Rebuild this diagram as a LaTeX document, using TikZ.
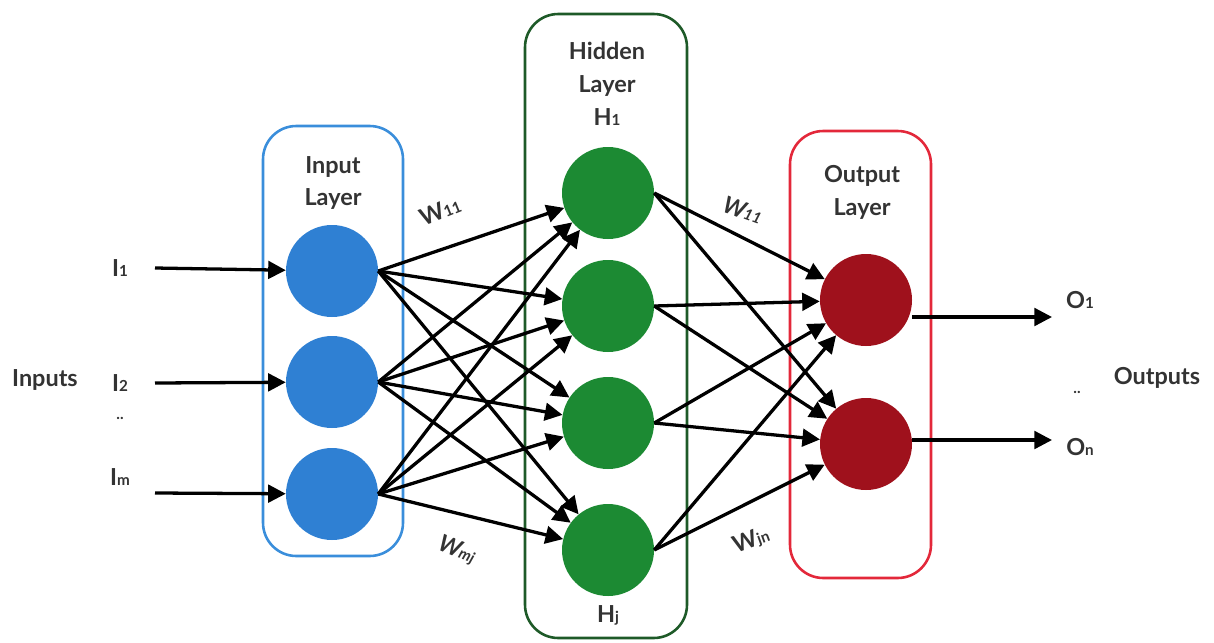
\documentclass[tikz,border=0pt]{standalone}
\usepackage{fontspec}
\setmainfont{Lato}
\usetikzlibrary{arrows.meta}
\definecolor{inblue}{HTML}{2F80D3}
\definecolor{inbox}{HTML}{3A8EDB}
\definecolor{hidgreen}{HTML}{1C8A33}
\definecolor{hidbox}{HTML}{1E5A28}
\definecolor{outred}{HTML}{9F111C}
\definecolor{outbox}{HTML}{E3283A}
\definecolor{txt}{HTML}{333333}
\newcommand{\sbs}[1]{{\fontsize{13pt}{13pt}\selectfont #1}}
\begin{document}
\begin{tikzpicture}[x=0.03cm,y=-0.03cm,
  lbl/.style={font=\fontsize{20pt}{28pt}\selectfont\bfseries, text=txt, align=center, inner sep=0},
  wlbl/.style={font=\fontsize{20pt}{24pt}\selectfont\bfseries, text=txt, inner sep=0},
  neuron/.style={circle, minimum size=2.76cm, inner sep=0},
  conn/.style={line width=2.8pt, -{Triangle[length=15pt,width=15pt]}},
  layerbox/.style={line width=2.2pt, rounded corners=1cm},
]
\useasboundingbox (0,0) rectangle (1214,642);

% layer boxes
\draw[layerbox, inbox] (263,126) rectangle (403,556);
\draw[layerbox, hidbox] (525,14) rectangle (687,638);
\draw[layerbox, outbox] (790,131) rectangle (931,578);

% labels
\node[lbl] (tin) at (333,183) {Input\\Layer};
\node[lbl] (thid) at (607,84) {Hidden\\Layer\\H\sbs{1}};
\node[lbl] (tout) at (862,192) {Output\\Layer};
\node[lbl] (thj) at (608,615) {H\sbs{j}};
\node[lbl] (tinputs) at (45,380) {Inputs};
\node[lbl] (toutputs) at (1157,378) {Outputs};
\node[lbl] (ti1) at (120,268) {I\sbs{1}};
\node[lbl] (ti2) at (120,383) {I\sbs{2}};
\node[lbl] (tidots) at (120,418) {\sbs{..}};
\node[lbl] (tim) at (120,477) {I\sbs{m}};
\node[lbl] (to1) at (1080,300) {O\sbs{1}};
\node[lbl] (todots) at (1077,392) {\sbs{..}};
\node[lbl] (ton) at (1080,447) {O\sbs{n}};

% neurons
\node[neuron, fill=inblue] (I1) at (332,271) {};
\node[neuron, fill=inblue] (I2) at (332,382) {};
\node[neuron, fill=inblue] (Im) at (332,494) {};
\node[neuron, fill=hidgreen] (H1) at (608,193) {};
\node[neuron, fill=hidgreen] (H2) at (608,306) {};
\node[neuron, fill=hidgreen] (H3) at (608,423) {};
\node[neuron, fill=hidgreen] (Hj) at (608,550) {};
\node[neuron, fill=outred] (O1) at (866,300) {};
\node[neuron, fill=outred] (On) at (866,444) {};

% input arrows
\coordinate (s1) at (155,268);
\coordinate (s2) at (155,383);
\coordinate (sm) at (155,493);
\draw[conn] (s1) -- (I1);
\draw[conn] (s2) -- (I2);
\draw[conn] (sm) -- (Im);

% input -> hidden
\foreach \a in {I1,I2,Im}
  \foreach \b in {H1,H2,H3,Hj}
    \draw[conn] (\a.east) -- (\b);

% hidden -> output
\foreach \a in {H1,H2,H3,Hj}
  \foreach \b in {O1,On}
    \draw[conn] (\a.east) -- (\b);

% output arrows
\coordinate (e1) at (1052,317);
\coordinate (en) at (1052,440);
\draw[conn] (O1.east |- e1) -- (e1);
\draw[conn] (On.east |- en) -- (en);

% weight labels
\node[wlbl, rotate=22] (w1) at (440,211) {W\sbs{11}};
\node[wlbl, rotate=-20] (w2) at (743,210) {\itshape W\sbs{11}};
\node[wlbl, rotate=-22] (w3) at (457,550) {\itshape W\sbs{mj}};
\node[wlbl, rotate=20] (w4) at (751,540) {W\sbs{jn}};
\end{tikzpicture}
\end{document}
